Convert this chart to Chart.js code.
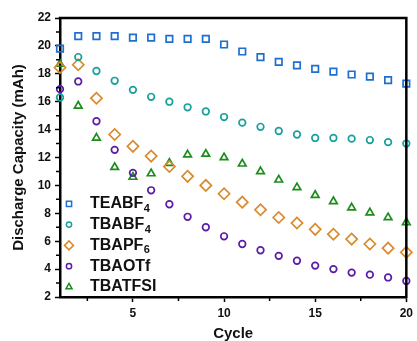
<!DOCTYPE html>
<html>
<head>
<meta charset="utf-8">
<script src="https://cdn.jsdelivr.net/npm/chart.js@4.4.0/dist/chart.umd.min.js"></script>
<style>
  html, body { margin: 0; padding: 0; background: #fff; }
  #wrap { width: 417px; height: 341px; }
</style>
</head>
<body>
<div id="wrap"><canvas id="myChart" width="417" height="341"></canvas></div>
<script>
// cycle numbers
var cycles = [1, 2, 3, 4, 5, 6, 7, 8, 9, 10, 11, 12, 13, 14, 15, 16, 17, 18, 19, 20];

// discharge capacity (mAh) per electrolyte salt
var teabf4 = [19.8, 20.7, 20.7, 20.7, 20.6, 20.6, 20.5, 20.5, 20.5, 20.1, 19.6, 19.2, 18.85, 18.6, 18.35, 18.15, 17.95, 17.8, 17.55, 17.3];
var tbabf4 = [16.3, 19.2, 18.2, 17.5, 16.85, 16.35, 16.0, 15.6, 15.3, 14.9, 14.5, 14.2, 13.9, 13.65, 13.4, 13.4, 13.35, 13.25, 13.1, 13.0];
var tbapf6 = [18.45, 18.65, 16.25, 13.65, 12.8, 12.1, 11.35, 10.65, 10.0, 9.4, 8.8, 8.25, 7.7, 7.3, 6.85, 6.5, 6.15, 5.8, 5.5, 5.2];
var tbaotf = [16.9, 17.45, 14.6, 12.55, 10.9, 9.65, 8.65, 7.75, 7.0, 6.35, 5.8, 5.35, 4.95, 4.6, 4.25, 4.0, 3.75, 3.6, 3.4, 3.15];
var tbatfsi = [18.7, 15.7, 13.4, 11.3, 10.6, 10.85, 11.6, 12.2, 12.25, 12.0, 11.55, 11.0, 10.4, 9.85, 9.3, 8.85, 8.4, 8.05, 7.7, 7.35];

// legend names: base text + subscript
var nameBase = ['TEABF', 'TBABF', 'TBAPF', 'TBAOTf', 'TBATFSI'];
var nameSub = ['4', '4', '6', '', ''];

// axis ticks
var xMajorTicks = [5, 10, 15, 20];
var xMinorTicks = [2.5, 7.5, 12.5, 17.5];
var yMinorTicks = [3, 5, 7, 9, 11, 13, 15, 17, 19, 21];

var colors = ['#1f6fd0', '#17a09c', '#da8a2c', '#5a1ca6', '#1d8c1d'];
var styles = ['rect', 'circle', 'rectRot', 'circle', 'triangle'];
var radii = [4.6, 3.3, 5.6, 3.3, 4.4];
var seriesData = [teabf4, tbabf4, tbapf6, tbaotf, tbatfsi];

var FONT = '"Liberation Sans", Arial, sans-serif';

var datasets = seriesData.map(function (vals, i) {
    return {
        label: nameBase[i] + nameSub[i],
        data: cycles.map(function (c, j) { return { x: c, y: vals[j] }; }),
        showLine: false,
        pointStyle: styles[i],
        pointRadius: radii[i],
        pointBorderWidth: 1.7,
        pointBorderColor: colors[i],
        pointBackgroundColor: 'rgba(0,0,0,0)',
        borderColor: colors[i],
        clip: false
    };
});

// frame, minor ticks and the inside legend
var extras = {
    id: 'extras',
    afterDraw: function (chart) {
        var ctx = chart.ctx;
        var a = chart.chartArea;
        var xs = chart.scales.x, ys = chart.scales.y;
        ctx.save();
        ctx.strokeStyle = '#000';
        ctx.lineWidth = 2.5;
        ctx.beginPath();
        ctx.moveTo(a.left - 1.25, a.top);
        ctx.lineTo(a.right, a.top);
        ctx.lineTo(a.right, a.bottom + 1.25);
        ctx.stroke();

        ctx.lineWidth = 1.5;
        ctx.beginPath();
        xMinorTicks.forEach(function (v) {
            var px = xs.getPixelForValue(v);
            ctx.moveTo(px, a.bottom);
            ctx.lineTo(px, a.bottom + 4);
        });
        yMinorTicks.forEach(function (v) {
            var py = ys.getPixelForValue(v);
            ctx.moveTo(a.left, py);
            ctx.lineTo(a.left - 4, py);
        });
        ctx.stroke();

        // legend
        var rowH = 20.8;
        var n = nameBase.length;
        for (var i = 0; i < n; i++) {
            var cy = a.bottom - 10 - (n - 1 - i) * rowH;
            var mx = a.left + 9;
            ctx.strokeStyle = colors[i];
            ctx.fillStyle = 'rgba(0,0,0,0)';
            ctx.lineWidth = 1.5;
            Chart.helpers.drawPoint(ctx, { pointStyle: styles[i], radius: radii[i] * 0.8, rotation: 0, borderWidth: 1.5 }, mx, cy);
            ctx.fillStyle = '#111';
            ctx.textBaseline = 'middle';
            ctx.textAlign = 'left';
            ctx.font = 'bold 16px ' + FONT;
            var tx = a.left + 30;
            ctx.fillText(nameBase[i], tx, cy);
            if (nameSub[i]) {
                var w = ctx.measureText(nameBase[i]).width;
                ctx.font = 'bold 11px ' + FONT;
                ctx.fillText(nameSub[i], tx + w + 0.5, cy + 5);
            }
        }
        ctx.restore();
    }
};

new Chart(document.getElementById('myChart'), {
    type: 'scatter',
    data: { datasets: datasets },
    plugins: [extras],
    options: {
        responsive: false,
        animation: false,
        layout: { padding: { left: 0, top: 18, right: 10, bottom: 0 } },
        plugins: {
            legend: { display: false },
            tooltip: { enabled: false }
        },
        scales: {
            x: {
                type: 'linear',
                min: 1,
                max: 20,
                afterBuildTicks: function (s) {
                    s.ticks = xMajorTicks.map(function (v) { return { value: v }; });
                },
                afterFit: function (s) { s.height = 44; },
                grid: { display: true, drawOnChartArea: false, drawTicks: true, tickLength: 5, tickWidth: 1.5, tickColor: '#000' },
                border: { display: true, color: '#000', width: 2.5 },
                ticks: { color: '#111', padding: 4, font: { family: FONT, size: 12, weight: 'bold' } },
                title: {
                    display: true,
                    text: 'Cycle',
                    color: '#111',
                    padding: { top: 0, bottom: 0 },
                    font: { family: FONT, size: 15, weight: 'bold', lineHeight: 1.0 }
                }
            },
            y: {
                min: 2,
                max: 22,
                afterFit: function (s) { s.width = 60; },
                grid: { display: true, drawOnChartArea: false, drawTicks: true, tickLength: 5, tickWidth: 1.5, tickColor: '#000' },
                border: { display: true, color: '#000', width: 2.5 },
                ticks: { stepSize: 2, color: '#111', padding: 4, font: { family: FONT, size: 12, weight: 'bold' } },
                title: {
                    display: true,
                    text: 'Discharge Capacity (mAh)',
                    color: '#111',
                    padding: { top: 9.5, bottom: 0 },
                    font: { family: FONT, size: 15, weight: 'bold' }
                }
            }
        }
    }
});
</script>
</body>
</html>
